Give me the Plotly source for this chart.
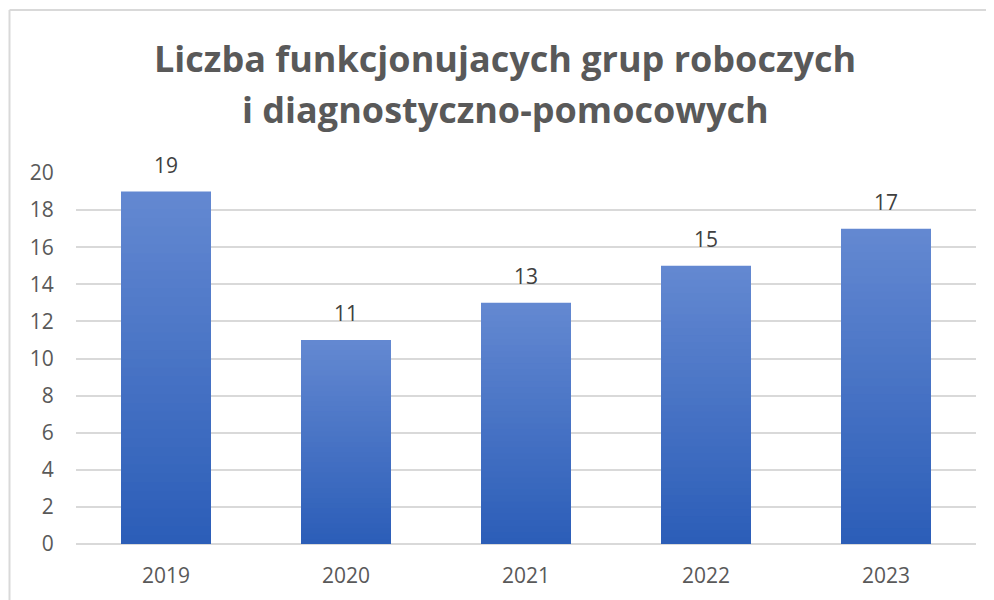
import plotly.graph_objects as go

years = ["2019", "2020", "2021", "2022", "2023"]
values = [19, 11, 13, 15, 17]
y_ticks = [0, 2, 4, 6, 8, 10, 12, 14, 16, 18, 20]
title_lines = ["Liczba funkcjonujacych grup roboczych", "i diagnostyczno-pomocowych"]

TOP = (99, 136, 209)
BOT = (44, 94, 184)
N = 40

# the page body has an 8px margin, so the figure is sized/positioned to fit
W, H = 986, 592
L, R, T, B = 68, 18, 165, 56
PH = H - T - B  # plot height
PW = W - L - R


def px_x(x):
    return (x - L) / PW


def px_y(y):
    return (H - B - y) / PH


fig = go.Figure()
for k in range(N):
    f = k / (N - 1)
    c = tuple(round(TOP[i] + (BOT[i] - TOP[i]) * f) for i in range(3))
    frac = (N - k) / N
    fig.add_trace(go.Bar(
        x=years, y=[v * frac for v in values],
        marker=dict(color="rgb(%d,%d,%d)" % c, line=dict(width=0)),
        width=0.5, showlegend=False, hoverinfo="skip",
    ))

for i, v in enumerate(values):
    fig.add_annotation(x=i, y=v, text=str(v), showarrow=False, yshift=27,
                       yanchor="middle",
                       font=dict(family="Open Sans", size=21, color="#404040"))

for line, yc in zip(title_lines, [51, 101]):
    fig.add_annotation(xref="paper", yref="paper", x=px_x(497), y=px_y(yc),
                       text="<b>%s</b>" % line, showarrow=False,
                       xanchor="center", yanchor="middle",
                       font=dict(family="Open Sans", size=36, color="#595959"))

fig.update_layout(
    width=W, height=H,
    barmode="overlay",
    paper_bgcolor="white", plot_bgcolor="white",
    margin=dict(l=L, r=R, t=T, b=B, autoexpand=False),
    xaxis=dict(
        type="category", range=[-0.5, 4.5],
        showgrid=False, showline=False,
        ticks="outside", ticklen=13, tickcolor="rgba(0,0,0,0)",
        tickfont=dict(family="Open Sans", size=21, color="#595959"),
    ),
    yaxis=dict(
        range=[0, 20], tickvals=y_ticks, showgrid=True,
        gridcolor="#d9d9d9", gridwidth=2,
        zeroline=True, zerolinecolor="#d9d9d9", zerolinewidth=2,
        showline=False,
        ticks="outside", ticklen=17, tickcolor="rgba(0,0,0,0)",
        tickfont=dict(family="Open Sans", size=21, color="#595959"),
    ),
    shapes=[
        dict(type="line", xref="paper", yref="paper", x0=px_x(1.5), x1=px_x(W + 10),
             y0=px_y(2), y1=px_y(2), line=dict(color="#d9d9d9", width=2)),
        dict(type="line", xref="paper", yref="paper", x0=px_x(1.5), x1=px_x(1.5),
             y0=px_y(2), y1=px_y(H + 10), line=dict(color="#d9d9d9", width=2)),
    ],
)

fig.write_html("out.html")
